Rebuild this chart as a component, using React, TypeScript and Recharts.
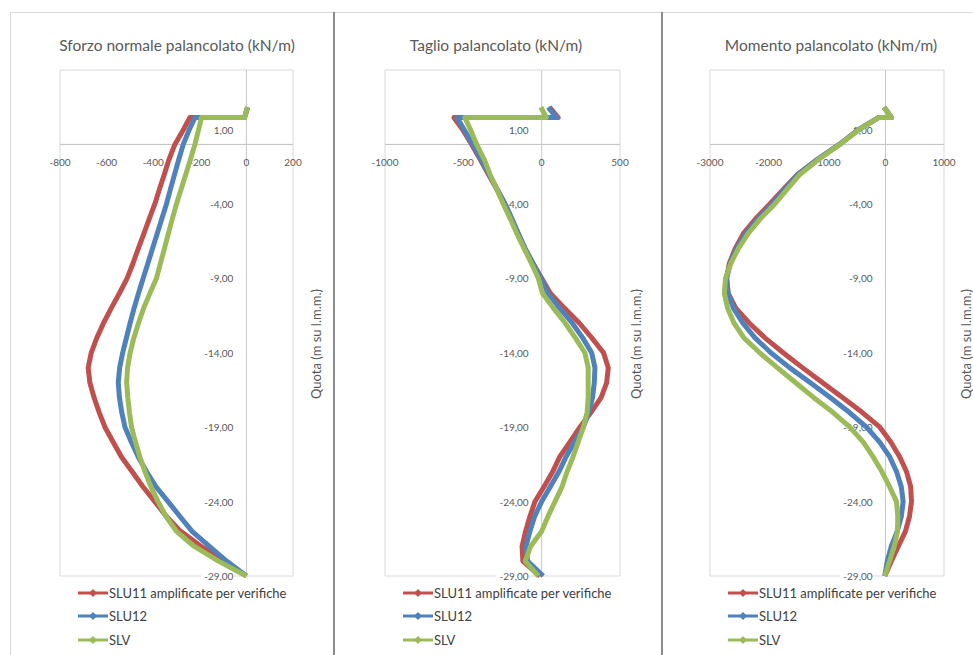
import React from "react";
import {
  ScatterChart,
  Scatter,
  XAxis,
  YAxis,
  CartesianGrid,
  ReferenceLine,
  ReferenceDot,
} from "recharts";

// quota (m su l.m.m.) shared by every series
const depth = [
  2.5, 1.8, 1.8, 1, 0, -1, -2, -3, -4, -5, -6, -7, -8, -9, -10, -11, -12, -13,
  -14, -15, -16, -17, -18, -19, -20, -21, -22, -23, -24, -25, -26, -27, -28,
  -29,
];

const seriesNames = ["SLU11 amplificate per verifiche", "SLU12", "SLV"];
const seriesColors = ["#C0504D", "#4F81BD", "#9BBB59"];

const quotaTicks = [-29, -24, -19, -14, -9, -4, 1];
const nTicks = [-800, -600, -400, -200, 0, 200];
const vTicks = [-1000, -500, 0, 500];
const mTicks = [-3000, -2000, -1000, 0, 1000];

// Sforzo normale (kN/m)
const nSlu11 = [5, -8, -243, -270, -307, -332, -352, -373, -393, -417, -440, -464, -487, -512, -545, -580, -613, -642, -666, -679, -672, -654, -632, -607, -572, -536, -490, -444, -393, -343, -282, -195, -95, 0];
const nSlu12 = [5, -8, -221, -245, -271, -290, -308, -326, -343, -363, -383, -403, -423, -443, -463, -482, -499, -515, -531, -544, -550, -545, -535, -521, -494, -464, -428, -388, -336, -285, -233, -160, -85, 0];
const nSlv = [5, -8, -193, -205, -221, -240, -260, -280, -300, -318, -335, -352, -369, -386, -414, -441, -463, -483, -499, -510, -514, -509, -502, -493, -476, -457, -435, -410, -379, -345, -300, -225, -120, 0];

// Taglio (kN/m)
const vSlu11 = [50, 105, -560, -505, -447, -393, -340, -287, -234, -192, -150, -108, -55, 0, 55, 145, 240, 320, 395, 425, 415, 380, 315, 244, 180, 115, 70, 15, -43, -75, -103, -125, -120, -11];
const vSlu12 = [42, 95, -540, -495, -440, -388, -335, -284, -234, -190, -148, -105, -55, -5, 38, 115, 195, 262, 319, 340, 336, 325, 300, 266, 210, 155, 110, 55, 0, -45, -75, -100, -90, 10];
const vSlv = [-5, 30, -490, -455, -415, -367, -330, -287, -245, -200, -158, -112, -65, -21, 5, 75, 150, 215, 276, 297, 297, 297, 290, 266, 233, 200, 162, 130, 85, 40, 0, -70, -105, -21];

// Momento (kNm/m)
const mSlu11 = [-24, 103, -120, -460, -781, -1160, -1500, -1740, -1977, -2220, -2430, -2570, -2670, -2718, -2690, -2560, -2330, -2060, -1749, -1420, -1080, -735, -400, -97, 90, 244, 360, 430, 444, 410, 340, 220, 100, -12];
const mSlu12 = [-24, 103, -120, -460, -790, -1160, -1490, -1720, -1935, -2180, -2390, -2545, -2655, -2715, -2690, -2600, -2440, -2230, -1960, -1640, -1290, -945, -620, -325, -100, 73, 190, 270, 302, 270, 200, 100, 30, -12];
const mSlv = [-24, 103, -120, -450, -780, -1140, -1460, -1680, -1892, -2140, -2350, -2515, -2645, -2735, -2755, -2700, -2590, -2420, -2150, -1850, -1540, -1230, -900, -610, -380, -211, -60, 70, 188, 210, 205, 150, 70, -12];

const fmtQuota = (v: number) => v.toFixed(2).replace(".", ",");

const XTick = (props: any) => {
  const { cx, cy, value } = props;
  return (
    <text x={cx} y={cy + 18} textAnchor="middle" dominantBaseline="central" fontSize={10} fill="#595959">
      {value}
    </text>
  );
};

const YTick = (props: any) => {
  const { cx, cy, value } = props;
  const label = fmtQuota(value);
  const w = label.length * 5.4;
  return (
    <g>
      <rect x={cx - 13 - w} y={cy - 5} width={w} height={10} fill="#fff" />
      <text x={cx - 13} y={cy} textAnchor="end" dominantBaseline="central" fontSize={10} fill="#595959">
        {label}
      </text>
    </g>
  );
};

const Empty = () => <g />;

type PanelProps = {
  title: string;
  left: number;
  width: number;
  marginLeft: number;
  marginRight: number;
  xTicks: number[];
  series: number[][];
  titleX: number;
  yTitleX: number;
  legendX: number;
};

const Panel = ({ title, left, width, marginLeft, marginRight, xTicks, series, titleX, yTitleX, legendX }: PanelProps) => {
  const rows = series.map((vals) => depth.map((d, i) => ({ x: vals[i], y: d })));
  return (
    <div style={{ position: "absolute", left, top: 0, width, height: 655 }}>
      <div
        style={{
          position: "absolute",
          left: titleX - left - 150,
          width: 300,
          top: 36,
          textAlign: "center",
          fontSize: 15.5,
          color: "#595959",
        }}
      >
        {title}
      </div>
      <ScatterChart
        width={width}
        height={655}
        margin={{ top: 70, bottom: 79, left: marginLeft, right: marginRight }}
      >
        <CartesianGrid stroke="#d9d9d9" />
        <XAxis
          type="number"
          dataKey="x"
          domain={[xTicks[0], xTicks[xTicks.length - 1]]}
          ticks={xTicks}
          tick={false}
          axisLine={false}
          tickLine={false}
          height={0}
        />
        <YAxis
          type="number"
          dataKey="y"
          domain={[-29, 5]}
          ticks={quotaTicks}
          tick={false}
          axisLine={false}
          tickLine={false}
          width={0}
        />
        <ReferenceLine y={0} stroke="#bfbfbf" />
        <ReferenceLine x={0} stroke="#c8c8c8" />
        {xTicks.map((t) => (
          <ReferenceDot key={"x" + t} x={t} y={0} r={1} shape={(p: any) => <XTick {...p} value={t} />} />
        ))}
        {quotaTicks.map((t) => (
          <ReferenceDot key={"y" + t} x={0} y={t} r={1} shape={(p: any) => <YTick {...p} value={t} />} />
        ))}
        {rows.map((r, i) => (
          <Scatter
            key={seriesNames[i]}
            name={seriesNames[i]}
            data={r}
            fill={seriesColors[i]}
            line={{ stroke: seriesColors[i], strokeWidth: 5, strokeLinejoin: "round" }}
            lineType="joint"
            shape={<Empty />}
            isAnimationActive={false}
          />
        ))}
      </ScatterChart>
      <div
        style={{
          position: "absolute",
          left: yTitleX - left - 70,
          top: 336,
          width: 140,
          textAlign: "center",
          fontSize: 13,
          color: "#595959",
          transform: "rotate(-90deg)",
        }}
      >
        Quota (m su l.m.m.)
      </div>
      <div style={{ position: "absolute", left: legendX - left, top: 581 }}>
        {seriesNames.map((n, i) => (
          <div key={n} style={{ display: "flex", alignItems: "center", height: 23.5 }}>
            <svg width={30} height={10}>
              <line x1={0} y1={5} x2={30} y2={5} stroke={seriesColors[i]} strokeWidth={3} />
              <path d="M15 1 L19 5 L15 9 L11 5Z" fill={seriesColors[i]} />
            </svg>
            <span style={{ marginLeft: 1, fontSize: 13, color: "#404040" }}>{n}</span>
          </div>
        ))}
      </div>
    </div>
  );
};

const App: React.FC = () => {
  return (
    <div
      style={{
        position: "absolute",
        left: 0,
        top: 0,
        width: 973,
        height: 655,
        background: "#fff",
        overflow: "hidden",
        fontFamily: "Lato, 'Open Sans', sans-serif",
      }}
    >
      <div style={{ position: "absolute", left: 10, top: 12, width: 963, height: 1, background: "#d9d9d9" }} />
      <div style={{ position: "absolute", left: 10, top: 12, width: 1, height: 643, background: "#d9d9d9" }} />
      <Panel
        title="Sforzo normale palancolato (kN/m)"
        left={10}
        width={324}
        marginLeft={50}
        marginRight={41}
        xTicks={nTicks}
        series={[nSlu11, nSlu12, nSlv]}
        titleX={177}
        yTitleX={316}
        legendX={78}
      />
      <Panel
        title="Taglio palancolato (kN/m)"
        left={335}
        width={327}
        marginLeft={50}
        marginRight={42}
        xTicks={vTicks}
        series={[vSlu11, vSlu12, vSlv]}
        titleX={496}
        yTitleX={636}
        legendX={403}
      />
      <Panel
        title="Momento palancolato (kNm/m)"
        left={663}
        width={310}
        marginLeft={47}
        marginRight={29}
        xTicks={mTicks}
        series={[mSlu11, mSlu12, mSlv]}
        titleX={831}
        yTitleX={966}
        legendX={728}
      />
      <div style={{ position: "absolute", left: 333, top: 12, width: 2, height: 643, background: "#8c8c8c" }} />
      <div style={{ position: "absolute", left: 661, top: 12, width: 2, height: 643, background: "#8c8c8c" }} />
    </div>
  );
};

export default App;
